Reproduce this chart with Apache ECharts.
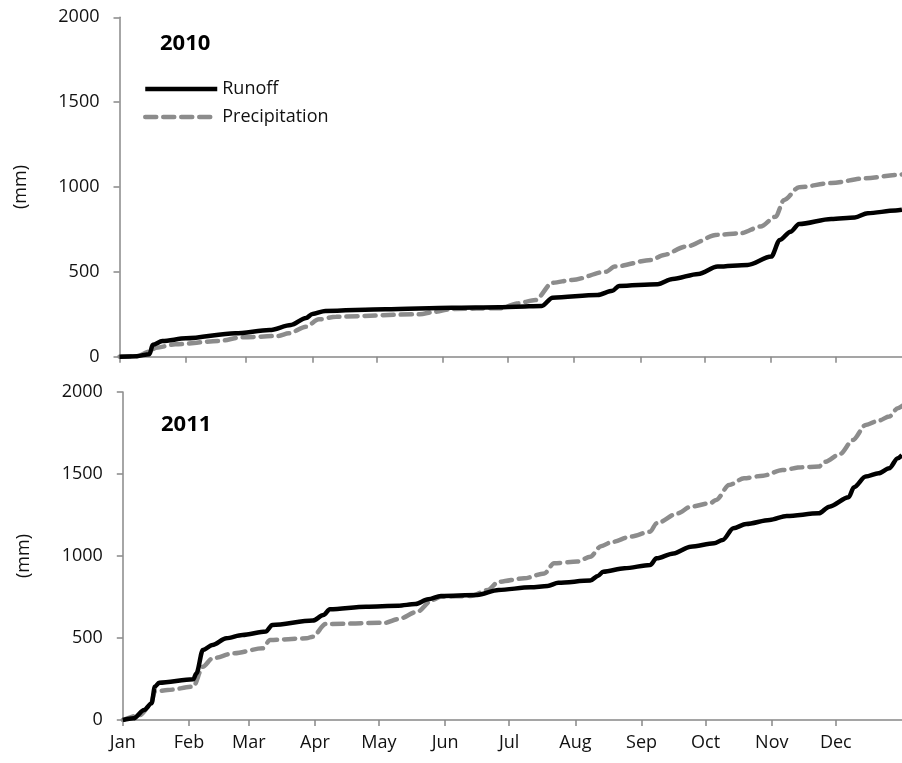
<!DOCTYPE html>
<html>
<head>
<meta charset="utf-8">
<script src="https://cdn.jsdelivr.net/npm/echarts@6/dist/echarts.min.js"></script>
<style>
    html, body { margin: 0; padding: 0; background: #fff; }
    #chart { width: 902px; height: 763px; }
</style>
</head>
<body>
<div id="chart"></div>
<script>
// month start (day of year) and labels
const monthStarts = [0, 31, 59, 90, 120, 151, 181, 212, 243, 273, 304, 334]
const monthNames = ['Jan', 'Feb', 'Mar', 'Apr', 'May', 'Jun', 'Jul', 'Aug', 'Sep', 'Oct', 'Nov', 'Dec']
const yTicks = [0, 500, 1000, 1500, 2000]

// 2010 cumulative (mm)
const runoff2010Days = [0, 8, 14, 15.5, 20, 31, 54, 70, 80, 87, 90, 96, 124, 155, 177, 185, 197, 202, 223, 230, 233, 251, 258, 270, 279, 293, 304, 308, 313, 317, 332, 343, 349, 362, 365]
const runoff2010 = [0, 3, 15, 70, 92, 108, 138, 157, 187, 228, 252, 270, 280, 289, 292, 295, 299, 348, 364, 389, 417, 427, 458, 488, 531, 541, 590, 688, 737, 782, 812, 820, 846, 861, 866]
const precip2010Days = [0, 8, 14, 17, 26, 46, 57, 74, 79, 87, 93, 101, 140, 147, 155, 178, 186, 194, 202, 211, 227, 231, 248, 254, 264, 279, 290, 299, 306, 310, 317, 332, 348, 363, 365]
const precip2010 = [0, 3, 30, 53, 73, 92, 114, 122, 138, 177, 220, 236, 250, 265, 281, 286, 315, 334, 436, 452, 501, 531, 570, 600, 649, 718, 728, 767, 825, 924, 999, 1023, 1052, 1071, 1074]

// 2011 cumulative (mm)
const runoff2011Days = [0, 5, 10, 13.5, 15, 17, 33, 34.5, 37.5, 42, 48.5, 56, 67, 70, 89, 94, 97, 114, 129, 137, 143, 149, 166, 176, 191, 199, 204, 219, 222.5, 225, 235, 247, 250, 258, 266, 277, 281, 286, 292, 303, 311, 326, 331, 340, 342.5, 348, 354, 359, 363, 365]
const runoff2011 = [0, 10, 61, 102, 203, 227, 248, 285, 427, 457, 498, 518, 539, 579, 606, 640, 675, 691, 697, 707, 736, 756, 762, 793, 809, 817, 837, 850, 878, 904, 925, 945, 986, 1016, 1057, 1077, 1098, 1169, 1195, 1220, 1244, 1260, 1301, 1358, 1419, 1484, 1504, 1535, 1596, 1615]
const precip2011Days = [0, 8, 13, 15, 21, 33, 37.5, 42, 52, 65.5, 69, 86, 89, 95, 123, 129, 138, 145, 149, 163, 171, 176, 188, 197.5, 202, 213, 219, 224, 229, 238, 247, 250, 260, 266, 275, 278, 284, 291, 300, 309, 318, 326, 329, 336, 342, 348, 354, 359, 363, 365]
const precip2011 = [0, 30, 91, 173, 183, 203, 325, 376, 407, 437, 488, 498, 508, 585, 593, 615, 660, 732, 752, 756, 793, 843, 864, 894, 956, 966, 996, 1060, 1085, 1118, 1148, 1199, 1260, 1301, 1321, 1342, 1433, 1474, 1490, 1524, 1541, 1545, 1575, 1622, 1707, 1799, 1825, 1850, 1901, 1915]

const FONT = '"Open Sans", sans-serif'
const AXIS_GREY = '#888888'
const PRECIP_GREY = '#8c8c8c'

const pairs = (days, vals) => days.map((d, i) => [d, vals[i]])

const xAxisFor = (gridIndex, showLabels) => ({
    type: 'value',
    gridIndex,
    min: 0,
    max: 365,
    axisLine: { show: true, lineStyle: { color: AXIS_GREY, width: 1.5 } },
    axisTick: {
        show: true,
        length: 6,
        customValues: monthStarts,
        lineStyle: { color: AXIS_GREY, width: 1.5 },
    },
    axisLabel: {
        show: showLabels,
        customValues: monthStarts,
        margin: 14,
        color: '#111',
        fontFamily: FONT,
        fontSize: 18,
        formatter: v => monthNames[monthStarts.indexOf(v)] || '',
    },
    splitLine: { show: false },
})

const yAxisFor = (gridIndex) => ({
    type: 'value',
    gridIndex,
    min: 0,
    max: 2000,
    interval: 500,
    name: '(mm)',
    nameLocation: 'middle',
    nameGap: 90,
    nameRotate: 90,
    nameTextStyle: { color: '#111', fontFamily: FONT, fontSize: 18 },
    axisLine: { show: true, lineStyle: { color: AXIS_GREY, width: 1.5 } },
    axisTick: { show: true, length: 6, lineStyle: { color: AXIS_GREY, width: 1.5 } },
    axisLabel: {
        margin: 20,
        color: '#111',
        fontFamily: FONT,
        fontSize: 18,
        customValues: yTicks,
        formatter: v => String(v),
    },
    splitLine: { show: false },
})

const runoffSeries = (idx, data) => ({
    name: 'Runoff',
    type: 'line',
    xAxisIndex: idx,
    yAxisIndex: idx,
    data,
    symbol: 'none',
    smooth: 0.3,
    smoothMonotone: 'x',
    lineStyle: { color: '#000', width: 4.5 },
    itemStyle: { color: '#000' },
    z: 3,
})

const precipSeries = (idx, data) => ({
    name: 'Precipitation',
    type: 'line',
    xAxisIndex: idx,
    yAxisIndex: idx,
    data,
    symbol: 'none',
    smooth: 0.3,
    smoothMonotone: 'x',
    lineStyle: { color: PRECIP_GREY, width: 4.5, type: [11, 7], cap: 'round' },
    itemStyle: { color: PRECIP_GREY },
    z: 2,
})

const chart = echarts.init(document.getElementById('chart'), null, { renderer: 'canvas' })

chart.setOption({
    animation: false,
    backgroundColor: '#fff',
    grid: [
        { left: 119.5, right: -2, top: 17.3, height: 339.4 },
        { left: 122.8, right: -5, top: 392, height: 328 },
    ],
    title: [
        { text: '2010', left: 155, top: 28, textStyle: { fontFamily: FONT, fontSize: 22, fontWeight: 'bold', color: '#000' } },
        { text: '2011', left: 156, top: 409, textStyle: { fontFamily: FONT, fontSize: 22, fontWeight: 'bold', color: '#000' } },
    ],
    legend: {
        orient: 'vertical',
        left: 138,
        top: 75,
        itemWidth: 72,
        itemHeight: 14,
        itemGap: 10,
        data: ['Runoff', 'Precipitation'],
        // hide the point marker, keep only the line
        itemStyle: { opacity: 0 },
        lineStyle: { width: 4.5 },
        textStyle: { fontFamily: FONT, fontSize: 18, lineHeight: 18, color: '#111' },
    },
    xAxis: [xAxisFor(0, false), xAxisFor(1, true)],
    yAxis: [yAxisFor(0), yAxisFor(1)],
    series: [
        precipSeries(0, pairs(precip2010Days, precip2010)),
        runoffSeries(0, pairs(runoff2010Days, runoff2010)),
        precipSeries(1, pairs(precip2011Days, precip2011)),
        runoffSeries(1, pairs(runoff2011Days, runoff2011)),
    ],
})
</script>
</body>
</html>
